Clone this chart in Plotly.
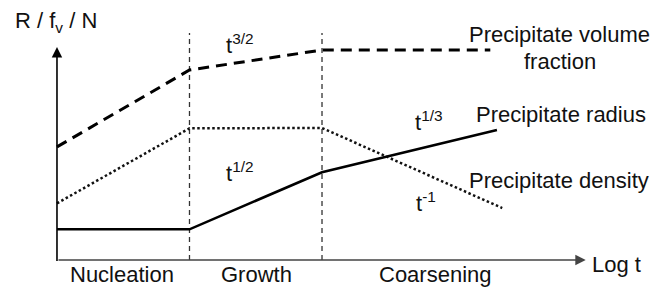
import plotly.graph_objects as go

# ---- data (schematic units: x = log t, y = arbitrary) ----
volume_x = [0.0, 1.0, 2.0, 3.27]
volume_y = [5.31, 8.92, 9.86, 9.86]
density_x = [0.0, 1.0, 2.0, 3.36]
density_y = [2.66, 6.18, 6.20, 2.44]
radius_x = [0.0, 1.0, 2.0, 3.32]
radius_y = [1.44, 1.44, 4.12, 6.10]
boundary_x = [1.0, 2.0]
boundary_top = 10.66
stage_labels = ["Nucleation", "Growth", "Coarsening"]
stage_centers = [0.494, 1.502, 2.857]
exponent_labels = ["t<sup>3/2</sup>", "t<sup>1/2</sup>", "t<sup>-1</sup>", "t<sup>1/3</sup>"]
exponent_x = [1.381, 1.381, 2.785, 2.808]
exponent_y = [10.14, 4.13, 2.72, 6.53]
series_labels = ["Precipitate volume", "fraction", "Precipitate radius", "Precipitate density"]
series_label_x = [3.789, 3.796, 3.80, 3.789]
series_label_y = [10.587, 9.32, 6.83, 3.73]
y_title = "R / f<sub>v</sub> / N"
x_title = "Log t"
x_axis_end = 3.99
y_axis_end = 10.0

FONT = "Liberation Sans, Arial, sans-serif"
FS = 22

fig = go.Figure()

for bx in boundary_x:
    fig.add_trace(go.Scatter(x=[bx, bx], y=[0, boundary_top], mode="lines",
                             line=dict(color="#333333", width=1.3, dash="5px,4px"),
                             hoverinfo="skip", showlegend=False))

fig.add_trace(go.Scatter(x=volume_x, y=volume_y, mode="lines",
                         line=dict(color="black", width=3, dash="11px,7px"),
                         showlegend=False))
fig.add_trace(go.Scatter(x=density_x, y=density_y, mode="lines",
                         line=dict(color="#111111", width=2.5, dash="2.5px,2.5px"),
                         showlegend=False))
fig.add_trace(go.Scatter(x=radius_x, y=radius_y, mode="lines",
                         line=dict(color="black", width=2.6),
                         showlegend=False))

ann = []
# axes with arrows
ann.append(dict(x=0, y=y_axis_end, ax=0, ay=-0.12, xref="x", yref="y", axref="x", ayref="y",
                text="", showarrow=True, arrowhead=2, arrowsize=1.3, arrowwidth=1.6,
                arrowcolor="black", standoff=0, startstandoff=0))
ann.append(dict(x=x_axis_end, y=0, ax=0, ay=0, xref="x", yref="y", axref="x", ayref="y",
                text="", showarrow=True, arrowhead=2, arrowsize=1.3, arrowwidth=1.6,
                arrowcolor="#444444", standoff=0, startstandoff=0))

def label(text, x, y):
    return dict(x=x, y=y, xref="x", yref="y", text=text, showarrow=False,
                xanchor="center", yanchor="middle",
                font=dict(family=FONT, size=FS, color="#111111"))

ann.append(label(y_title, -0.0075, 11.17))
ann.append(label(x_title, 4.226, -0.19))
for t, cx in zip(stage_labels, stage_centers):
    ann.append(label(t, cx, -0.70))
for t, x, y in zip(exponent_labels, exponent_x, exponent_y):
    ann.append(label(t, x, y))
for t, x, y in zip(series_labels, series_label_x, series_label_y):
    ann.append(label(t, x, y))

fig.update_layout(
    width=657, height=289,
    margin=dict(l=0, r=0, t=0, b=0),
    font=dict(family=FONT, size=FS, color="#111111"),
    paper_bgcolor="white", plot_bgcolor="white",
    xaxis=dict(range=[-0.430, 4.528], visible=False, fixedrange=True),
    yaxis=dict(range=[-1.362, 12.207], visible=False, fixedrange=True),
    annotations=ann,
    showlegend=False,
)

fig.write_html("out.html", config={"displayModeBar": False},
               post_script="document.body.style.margin='0';document.body.style.overflow='hidden';")
